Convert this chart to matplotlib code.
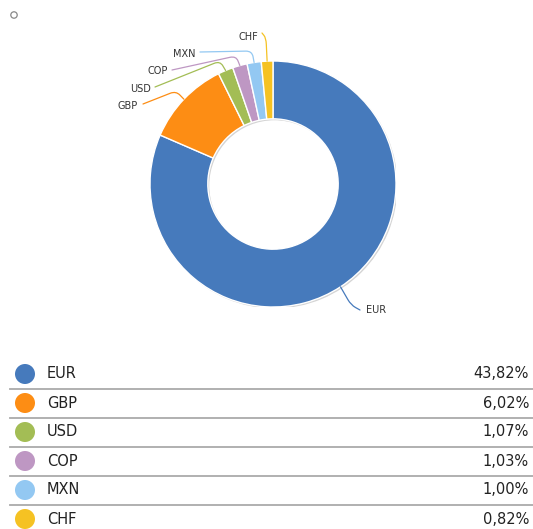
import numpy as np
import matplotlib
matplotlib.use('Agg')
import matplotlib.pyplot as plt
from matplotlib.patches import Circle, Wedge, PathPatch
from matplotlib.path import Path

# data
currencies = ['EUR', 'GBP', 'USD', 'COP', 'MXN', 'CHF']
shares = [43.82, 6.02, 1.07, 1.03, 1.00, 0.82]
colors = ['#467ABC', '#FD8D14', '#A3BD55', '#BE97C3', '#93C8F2', '#F5C223']

W, H = 533, 529
fig = plt.figure(figsize=(W / 100, H / 100), dpi=100)

# background axes in pixel coordinates (table + small marker)
bg = fig.add_axes([0, 0, 1, 1])
bg.set_xlim(0, W)
bg.set_ylim(H, 0)
bg.set_axis_off()

bg.add_patch(Circle((14, 15), 3.2, facecolor='white', edgecolor='#888888', lw=0.9))

row_y0, row_h = 374, 29
for i, (cur, val, col) in enumerate(zip(currencies, shares, colors)):
    y = row_y0 + i * row_h
    bg.add_patch(Circle((25, y), 10, facecolor=col, edgecolor='none'))
    bg.text(47, y, cur, fontsize=10.5, va='center', ha='left', color='#222222')
    bg.text(529, y, ('%.2f' % val).replace('.', ',') + '%', fontsize=10.5,
            va='center', ha='right', color='#222222')
    if i < len(currencies) - 1:
        bg.plot([10, 533], [y + 15, y + 15], color='#aaaaaa', lw=1.3)

# donut chart
cx, cy, R = 273, 184, 123
pie_ax = fig.add_axes([(cx - R) / W, (H - cy - R) / H, 2 * R / W, 2 * R / H])
width = 0.47

# soft shadow behind the ring
pie_ax.add_patch(Wedge((0.012, -0.012), 1.0, 0, 360, width=width,
                       facecolor='#d4d4d4', edgecolor='none'))
wedges, _ = pie_ax.pie(shares, colors=colors, startangle=90, counterclock=False,
                       radius=1.0, wedgeprops=dict(width=width, edgecolor='white', lw=1.0))
pie_ax.set_xlim(-1, 1)
pie_ax.set_ylim(-1, 1)
pie_ax.set_aspect('equal')
pie_ax.set_axis_off()

# leader lines: elbow and end points in pixels, start from wedge mid angle
def px(p):
    return np.array([(p[0] - cx) / R, (cy - p[1]) / R])

label_layout = {
    'EUR': ((351, 305), (360, 310), (366, 310), 'left'),
    'GBP': ((176, 91), (143, 104), (138, 106), 'right'),
    'USD': ((220, 61), (155, 87), (151, 89), 'right'),
    'COP': ((236, 56), (172, 70), (168, 71), 'right'),
    'MXN': ((252, 51), (200, 52), (196, 54), 'right'),
    'CHF': ((266, 38), (262, 33), (258, 37), 'right'),
}

def rounded(a, b, c, r=0.05):
    # polyline a-b-c with the corner at b rounded off
    d1 = np.linalg.norm(a - b)
    d2 = np.linalg.norm(c - b)
    p1 = b + (a - b) * min(r / d1, 0.5)
    p2 = b + (c - b) * min(r / d2, 0.5)
    verts = [a, p1, b, p2, c]
    codes = [Path.MOVETO, Path.LINETO, Path.CURVE3, Path.CURVE3, Path.LINETO]
    return Path(verts, codes)

for w, cur, col in zip(wedges, currencies, colors):
    ang = np.deg2rad((w.theta1 + w.theta2) / 2)
    start = np.array([np.cos(ang), np.sin(ang)])
    elbow, end, tpos, ha = label_layout[cur]
    e, n, t = px(elbow), px(end), px(tpos)
    pie_ax.add_patch(PathPatch(rounded(start, e, n), facecolor='none', edgecolor=col,
                               lw=0.9, clip_on=False, capstyle='round'))
    pie_ax.text(t[0], t[1], cur, fontsize=7, ha=ha, va='center', color='#333333',
                clip_on=False)

fig.savefig('out.png', dpi=100)
